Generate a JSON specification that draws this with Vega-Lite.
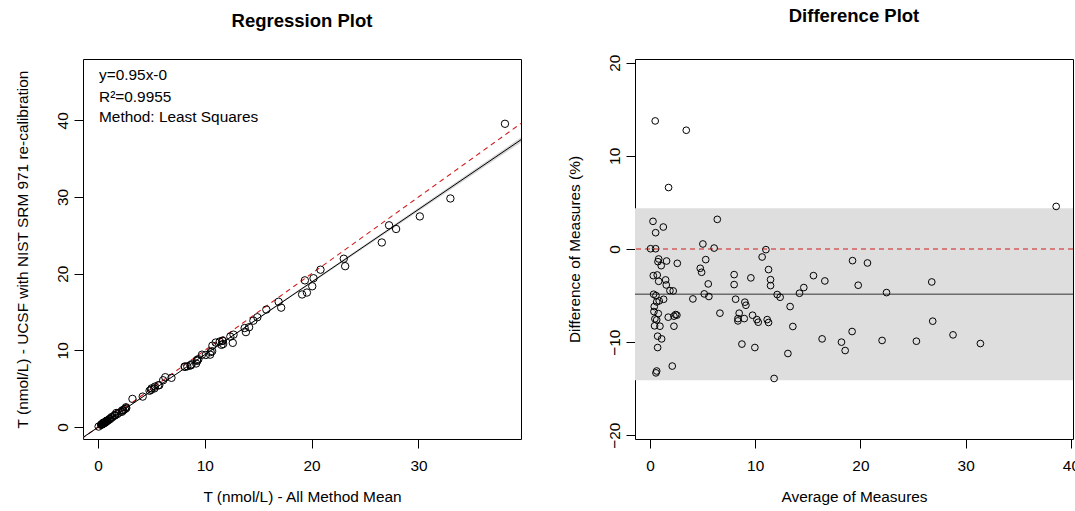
{
  "$schema": "https://vega.github.io/schema/vega-lite/v6.json",
  "background": "white",
  "padding": {"left": 14, "top": 6, "right": 0, "bottom": 0},
  "spacing": 114,
  "bounds": "flush",
  "config": {
    "font": "Liberation Sans",
    "view": {"stroke": "black", "strokeWidth": 1},
    "axis": {"grid": false, "domain": false, "tickColor": "black", "tickSize": 9, "labelFontSize": 15.4, "titleFontSize": 15.4, "labelColor": "black", "titleColor": "black", "titleFontWeight": "normal", "labelFont": "Liberation Sans", "titleFont": "Liberation Sans"},
    "axisY": {"labelAngle": 270, "labelAlign": "center", "labelBaseline": "bottom", "labelPadding": 4, "titlePadding": 25},
    "axisX": {"labelPadding": 10, "titlePadding": 16},
    "title": {"fontSize": 18.5, "fontWeight": "bold", "font": "Liberation Sans", "anchor": "middle", "offset": 29, "color": "black", "baseline": "bottom"}
  },
  "datasets": {
    "reg": [
      {"x":0.47,"y":0.53},{"x":3.23,"y":3.67},{"x":1.71,"y":1.83},{"x":0.29,"y":0.29},{"x":1.26,"y":1.29},
      {"x":0.54,"y":0.55},{"x":6.30,"y":6.50},{"x":0.06,"y":0.06},{"x":0.54,"y":0.54},{"x":5.02,"y":5.04},
      {"x":6.10,"y":6.10},{"x":0.83,"y":0.83},{"x":1.59,"y":1.57},{"x":1.08,"y":1.06},{"x":0.77,"y":0.76},
      {"x":2.62,"y":2.58},{"x":5.33,"y":5.27},{"x":4.83,"y":4.73},{"x":4.97,"y":4.85},{"x":0.33,"y":0.32},
      {"x":0.70,"y":0.68},{"x":0.84,"y":0.82},{"x":1.52,"y":1.47},{"x":1.58,"y":1.52},{"x":1.94,"y":1.86},
      {"x":2.26,"y":2.16},{"x":5.64,"y":5.44},{"x":5.28,"y":5.04},{"x":5.74,"y":5.46},{"x":0.36,"y":0.34},
      {"x":0.58,"y":0.56},{"x":4.19,"y":3.97},{"x":1.34,"y":1.27},{"x":0.91,"y":0.86},{"x":0.66,"y":0.62},
      {"x":0.42,"y":0.40},{"x":0.39,"y":0.37},{"x":0.82,"y":0.76},{"x":1.80,"y":1.68},{"x":2.53,"y":2.35},
      {"x":2.36,"y":2.20},{"x":0.49,"y":0.45},{"x":0.66,"y":0.62},{"x":0.46,"y":0.42},{"x":0.99,"y":0.91},
      {"x":2.38,"y":2.19},{"x":0.76,"y":0.70},{"x":1.16,"y":1.06},{"x":0.77,"y":0.69},{"x":2.25,"y":1.99},
      {"x":0.68,"y":0.60},{"x":0.61,"y":0.53},{"x":2.65,"y":2.47},{"x":11.02,"y":11.02},{"x":10.71,"y":10.61},
      {"x":8.11,"y":7.89},{"x":8.15,"y":7.85},{"x":9.74,"y":9.44},{"x":11.40,"y":11.15},{"x":11.65,"y":11.27},
      {"x":11.69,"y":11.24},{"x":15.76,"y":15.32},{"x":14.92,"y":14.32},{"x":14.55,"y":13.87},{"x":12.39,"y":11.79},
      {"x":12.69,"y":12.05},{"x":8.36,"y":7.92},{"x":9.28,"y":8.76},{"x":9.40,"y":8.85},{"x":13.73,"y":12.91},
      {"x":6.88,"y":6.42},{"x":8.77,"y":8.19},{"x":10.10,"y":9.40},{"x":8.67,"y":8.05},{"x":8.68,"y":8.04},
      {"x":9.30,"y":8.63},{"x":10.55,"y":9.78},{"x":10.69,"y":9.89},{"x":11.56,"y":10.72},{"x":11.72,"y":10.83},
      {"x":14.15,"y":13.02},{"x":9.19,"y":8.29},{"x":10.50,"y":9.44},{"x":13.85,"y":12.38},{"x":12.62,"y":10.98},
      {"x":19.37,"y":19.13},{"x":20.83,"y":20.52},{"x":16.91,"y":16.34},{"x":20.18,"y":19.41},{"x":27.25,"y":26.31},
      {"x":23.01,"y":21.95},{"x":27.91,"y":25.83},{"x":20.06,"y":18.36},{"x":17.15,"y":15.57},{"x":19.11,"y":17.29},
      {"x":19.56,"y":17.54},{"x":23.14,"y":20.98},{"x":26.57,"y":24.07},{"x":38.10,"y":39.55},{"x":30.13,"y":27.47},
      {"x":32.99,"y":29.81}
    ],
    "diff": [
      {"x":0.5,"y":13.75},{"x":3.45,"y":12.75},{"x":1.77,"y":6.6},{"x":0.29,"y":2.97},{"x":1.27,"y":2.36},
      {"x":0.54,"y":1.75},{"x":6.4,"y":3.18},{"x":0.06,"y":0.03},{"x":0.54,"y":0.03},{"x":5.03,"y":0.54},
      {"x":6.1,"y":0.1},{"x":0.83,"y":-1.07},{"x":1.58,"y":-1.29},{"x":1.07,"y":-1.79},{"x":0.76,"y":-1.36},
      {"x":2.6,"y":-1.54},{"x":5.3,"y":-1.14},{"x":4.78,"y":-2.07},{"x":4.91,"y":-2.5},{"x":0.32,"y":-2.86},
      {"x":0.69,"y":-2.79},{"x":0.83,"y":-3.47},{"x":1.49,"y":-3.32},{"x":1.55,"y":-3.86},{"x":1.9,"y":-4.47},
      {"x":2.21,"y":-4.5},{"x":5.54,"y":-3.75},{"x":5.16,"y":-4.82},{"x":5.6,"y":-5.1},{"x":0.35,"y":-4.86},
      {"x":0.57,"y":-5.0},{"x":4.08,"y":-5.36},{"x":1.3,"y":-5.4},{"x":0.88,"y":-5.57},{"x":0.64,"y":-5.68},
      {"x":0.41,"y":-6.18},{"x":0.38,"y":-6.72},{"x":0.79,"y":-6.93},{"x":1.74,"y":-7.32},{"x":2.44,"y":-7.04},
      {"x":2.28,"y":-7.21},{"x":0.47,"y":-7.5},{"x":0.64,"y":-7.61},{"x":0.44,"y":-8.25},{"x":0.95,"y":-8.29},
      {"x":2.28,"y":-8.29},{"x":0.73,"y":-9.36},{"x":1.11,"y":-9.65},{"x":0.73,"y":-10.58},{"x":2.12,"y":-12.57},
      {"x":0.64,"y":-13.1},{"x":0.57,"y":-13.3},{"x":2.56,"y":-7.1},{"x":11.02,"y":-0.07},{"x":10.66,"y":-0.86},
      {"x":8.0,"y":-2.75},{"x":8.0,"y":-3.82},{"x":9.59,"y":-3.1},{"x":11.27,"y":-2.21},{"x":11.46,"y":-3.29},
      {"x":11.46,"y":-3.93},{"x":15.54,"y":-2.86},{"x":14.62,"y":-4.14},{"x":14.21,"y":-4.75},{"x":12.09,"y":-4.89},
      {"x":12.37,"y":-5.18},{"x":8.14,"y":-5.39},{"x":9.02,"y":-5.71},{"x":9.12,"y":-6.04},{"x":13.32,"y":-6.18},
      {"x":6.65,"y":-6.89},{"x":8.48,"y":-6.89},{"x":9.75,"y":-7.11},{"x":8.36,"y":-7.47},{"x":8.36,"y":-7.72},
      {"x":8.96,"y":-7.47},{"x":10.16,"y":-7.58},{"x":10.29,"y":-7.86},{"x":11.14,"y":-7.58},{"x":11.27,"y":-7.89},
      {"x":13.58,"y":-8.32},{"x":8.74,"y":-10.21},{"x":9.97,"y":-10.58},{"x":13.11,"y":-11.22},{"x":11.8,"y":-13.9},
      {"x":19.25,"y":-1.25},{"x":20.67,"y":-1.5},{"x":16.62,"y":-3.43},{"x":19.79,"y":-3.89},{"x":26.78,"y":-3.54},
      {"x":22.48,"y":-4.68},{"x":26.87,"y":-7.75},{"x":19.21,"y":-8.86},{"x":16.36,"y":-9.65},{"x":18.2,"y":-10.0},
      {"x":18.55,"y":-10.9},{"x":22.06,"y":-9.82},{"x":25.32,"y":-9.9},{"x":38.6,"y":4.57},{"x":28.8,"y":-9.22},
      {"x":31.4,"y":-10.15}
    ]
  },
  "hconcat": [
    {
      "width": 438,
      "height": 380,
      "title": "Regression Plot",
      "encoding": {
        "x": {"field": "x", "type": "quantitative", "scale": {"domain": [-1.4, 39.6], "nice": false, "zero": false}, "axis": {"values": [0, 10, 20, 30], "title": "T (nmol/L) - All Method Mean"}},
        "y": {"field": "y", "type": "quantitative", "scale": {"domain": [-1.56, 48], "nice": false, "zero": false}, "axis": {"values": [0, 10, 20, 30, 40], "title": "T (nmol/L) - UCSF with NIST SRM 971 re-calibration"}}
      },
      "layer": [
        {
          "data": {"values": [{"x": -1.4, "y": -1.45, "y2": -1.27}, {"x": 10, "y": 9.38, "y2": 9.48}, {"x": 39.6, "y": 37.12, "y2": 37.78}]},
          "mark": {"type": "area", "color": "#d6d6d6", "clip": true},
          "encoding": {"y2": {"field": "y2"}}
        },
        {
          "data": {"values": [{"x": -1.56, "y": -1.56}, {"x": 39.6, "y": 39.6}]},
          "mark": {"type": "line", "color": "#d01818", "strokeDash": [5, 4], "strokeWidth": 1.1, "clip": true},
          "encoding": {}
        },
        {
          "data": {"values": [{"x": -1.4, "y": -1.36}, {"x": 39.6, "y": 37.47}]},
          "mark": {"type": "line", "color": "black", "strokeWidth": 1, "clip": true},
          "encoding": {}
        },
        {
          "data": {"name": "reg"},
          "mark": {"type": "point", "shape": "circle", "filled": false, "stroke": "black", "strokeWidth": 1, "size": 55, "opacity": 1}
        },
        {
          "data": {"values": [{"x": 0.1, "y": 45.9, "label": "y=0.95x-0"}, {"x": 0.1, "y": 43.1, "label": "R²=0.9955"}, {"x": 0.1, "y": 40.4, "label": "Method: Least Squares"}]},
          "mark": {"type": "text", "align": "left", "baseline": "middle", "fontSize": 15.4, "color": "black", "font": "Liberation Sans"},
          "encoding": {"text": {"field": "label"}}
        }
      ]
    },
    {
      "width": 438,
      "height": 380,
      "title": "Difference Plot",
      "layer": [
        {
          "data": {"values": [{"y": -14.1, "y2": 4.38}]},
          "mark": {"type": "rect", "color": "#dedede"},
          "encoding": {
            "y": {"field": "y", "type": "quantitative", "scale": {"domain": [-20.4, 20.4], "nice": false, "zero": false}, "axis": {"values": [-20, -10, 0, 10, 20], "title": "Difference of Measures (%)"}},
            "y2": {"field": "y2"}
          }
        },
        {
          "data": {"values": [{"y": 0}]},
          "mark": {"type": "rule", "color": "#d01818", "strokeDash": [5, 4], "strokeWidth": 1.1},
          "encoding": {"y": {"field": "y", "type": "quantitative"}}
        },
        {
          "data": {"values": [{"y": -4.85}]},
          "mark": {"type": "rule", "color": "#333333", "strokeWidth": 1},
          "encoding": {"y": {"field": "y", "type": "quantitative"}}
        },
        {
          "data": {"name": "diff"},
          "mark": {"type": "point", "shape": "circle", "filled": false, "stroke": "black", "strokeWidth": 1, "size": 45, "opacity": 1},
          "encoding": {
            "x": {"field": "x", "type": "quantitative", "scale": {"domain": [-1.42, 40.2], "nice": false, "zero": false}, "axis": {"values": [0, 10, 20, 30, 40], "title": "Average of Measures"}},
            "y": {"field": "y", "type": "quantitative"}
          }
        }
      ]
    }
  ]
}
